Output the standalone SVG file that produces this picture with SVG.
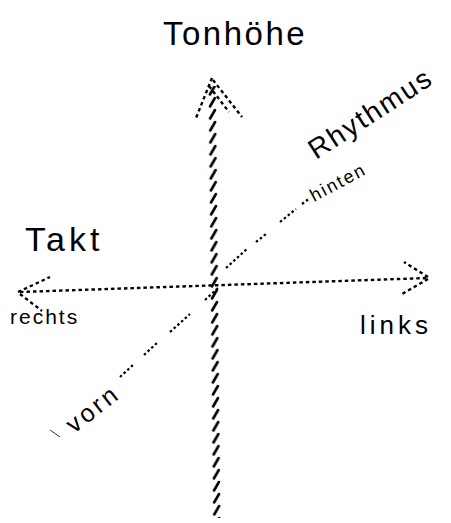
<svg xmlns="http://www.w3.org/2000/svg" width="451" height="523" viewBox="0 0 451 523">
<style>
.hand{font-family:"Liberation Sans","DejaVu Sans",sans-serif;fill:#000}
.dot{stroke:#000;stroke-width:2.4;fill:none;stroke-dasharray:3.5 3;stroke-linecap:butt}
.diag{stroke:#000;stroke-width:2.2;fill:none;stroke-dasharray:2.5 2.5;stroke-linecap:butt}
</style>
<defs>
<pattern id="hatch" patternUnits="userSpaceOnUse" width="10" height="12">
<line x1="2" y1="10.5" x2="7" y2="2" stroke="#000" stroke-width="2.6" stroke-linecap="round"/>
</pattern>
</defs>
<rect width="451" height="523" fill="#fff"/>
<g id="connectors">
<!-- vertical axis (Tonhöhe) -->
<rect x="209" y="86" width="10" height="432" fill="url(#hatch)" transform="rotate(-0.6 214 300)"/>
<path class="dot" d="M212 78 L196 118"/>
<path class="dot" d="M213 80 L242 117"/>
<path class="dot" d="M209 86 L229 112"/>
<!-- horizontal axis -->
<path class="dot" d="M20 292 L428 278"/>
<path class="dot" d="M18 292 L50 277"/>
<path class="dot" d="M20 294 L42 311"/>
<path class="dot" d="M428 277 L404 262"/>
<path class="dot" d="M428 279 L402 294"/>
<!-- diagonal axis -->
<path class="diag" d="M120 377 L134 364 M144 355 L158 342 M170 332 L190 314 M205 300 L218 288 M226 268 L248 248 M256 242 L266 234 M280 222 L296 209 M302 204 L310 198"/>
<line x1="50" y1="430" x2="60" y2="437" stroke="#000" stroke-width="0.8"/>
</g>
<g id="tonhoehe"><text class="hand" x="163" y="45" font-size="33" letter-spacing="2.5">Tonhöhe</text></g>
<g id="rhythmus"><text class="hand" x="0" y="0" font-size="28" letter-spacing="2" transform="translate(316 160) rotate(-33)">Rhythmus</text></g>
<g id="hinten"><text class="hand" x="0" y="0" font-size="18" letter-spacing="2" transform="translate(314 202) rotate(-28)">hinten</text></g>
<g id="takt"><text class="hand" x="25" y="251" font-size="34" letter-spacing="4">Takt</text></g>
<g id="rechts"><text class="hand" x="10" y="324" font-size="21" letter-spacing="2">rechts</text></g>
<g id="links"><text class="hand" x="360" y="334" font-size="26" letter-spacing="4">links</text></g>
<g id="vorn"><text class="hand" x="0" y="0" font-size="25" letter-spacing="3" transform="translate(74 434) rotate(-38)">vorn</text></g>
</svg>
